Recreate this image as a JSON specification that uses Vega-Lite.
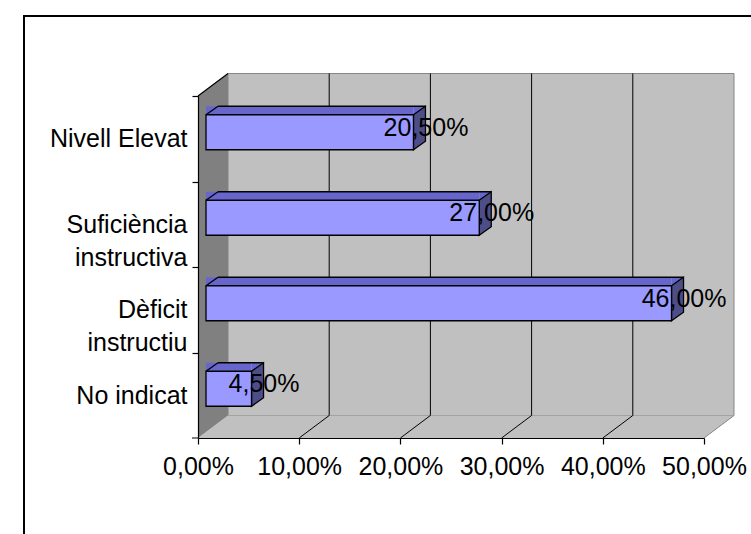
{
  "$schema": "https://vega.github.io/schema/vega-lite/v6.json",
  "width": 506,
  "height": 342,
  "autosize": {"type": "none"},
  "padding": {"left": 198, "top": 96, "right": 47, "bottom": 96},
  "background": "white",
  "config": {
    "view": {"stroke": null},
    "font": "Liberation Sans"
  },
  "data": {"values": [
    {"category": "Nivell Elevat", "value": 0.205},
    {"category": "Suficiència instructiva", "value": 0.27},
    {"category": "Dèficit instructiu", "value": 0.46},
    {"category": "No indicat", "value": 0.045}
  ]},
  "layer": [
    {"transform": [{"filter": "datum.category === 'No indicat'"}],
     "mark": {"type": "point", "shape": "M553,-422L-174,-422L-174,96", "size": 4, "filled": false, "stroke": "black", "strokeWidth": 2, "opacity": 1, "yOffset": 42.75},
     "encoding": {"x": {"datum": 0, "type": "quantitative"}, "y": {"field": "category", "type": "nominal"}}},
    {"transform": [{"filter": "datum.category === 'No indicat'"}],
     "mark": {"type": "point", "shape": "M30,-22.5L536,-22.5L536,-364.5L30,-364.5Z", "size": 4, "filled": true, "fill": "#C0C0C0", "stroke": "#868686", "strokeWidth": 1, "opacity": 1, "yOffset": 42.75},
     "encoding": {"x": {"datum": 0, "type": "quantitative"}, "y": {"field": "category", "type": "nominal"}}},
    {"transform": [{"filter": "datum.category === 'No indicat'"}],
     "mark": {"type": "point", "shape": "M0,0L30,-22.5L536,-22.5L506,0Z", "size": 4, "filled": true, "fill": "#C0C0C0", "strokeWidth": 0, "opacity": 1, "yOffset": 42.75},
     "encoding": {"x": {"datum": 0, "type": "quantitative"}, "y": {"field": "category", "type": "nominal"}}},
    {"transform": [{"filter": "datum.category === 'No indicat'"}],
     "mark": {"type": "point", "shape": "M506,0L536,-22.5", "size": 4, "filled": false, "stroke": "#868686", "strokeWidth": 1, "opacity": 1, "yOffset": 42.75},
     "encoding": {"x": {"datum": 0, "type": "quantitative"}, "y": {"field": "category", "type": "nominal"}}},
    {"transform": [{"filter": "datum.category === 'No indicat'"}],
     "mark": {"type": "point", "shape": "M0,0L30,-22.5L30,-364.5", "size": 4, "filled": false, "stroke": "black", "strokeWidth": 1, "opacity": 1, "yOffset": 42.75},
     "encoding": {"x": {"datum": 0.1, "type": "quantitative"}, "y": {"field": "category", "type": "nominal"}}},
    {"transform": [{"filter": "datum.category === 'No indicat'"}],
     "mark": {"type": "point", "shape": "M0,0L30,-22.5L30,-364.5", "size": 4, "filled": false, "stroke": "black", "strokeWidth": 1, "opacity": 1, "yOffset": 42.75},
     "encoding": {"x": {"datum": 0.2, "type": "quantitative"}, "y": {"field": "category", "type": "nominal"}}},
    {"transform": [{"filter": "datum.category === 'No indicat'"}],
     "mark": {"type": "point", "shape": "M0,0L30,-22.5L30,-364.5", "size": 4, "filled": false, "stroke": "black", "strokeWidth": 1, "opacity": 1, "yOffset": 42.75},
     "encoding": {"x": {"datum": 0.3, "type": "quantitative"}, "y": {"field": "category", "type": "nominal"}}},
    {"transform": [{"filter": "datum.category === 'No indicat'"}],
     "mark": {"type": "point", "shape": "M0,0L30,-22.5L30,-364.5", "size": 4, "filled": false, "stroke": "black", "strokeWidth": 1, "opacity": 1, "yOffset": 42.75},
     "encoding": {"x": {"datum": 0.4, "type": "quantitative"}, "y": {"field": "category", "type": "nominal"}}},
    {"transform": [{"filter": "datum.category === 'No indicat'"}],
     "mark": {"type": "point", "shape": "M0,0L0,-342L30,-364.5L30,-22.5Z", "size": 4, "filled": true, "fill": "#808080", "strokeWidth": 0, "opacity": 1, "yOffset": 42.75},
     "encoding": {"x": {"datum": 0, "type": "quantitative"}, "y": {"field": "category", "type": "nominal"}}},
    {"transform": [{"filter": "datum.category === 'No indicat'"}],
     "mark": {"type": "point", "shape": "M0,-342L30,-364.5M-6,0L0,0", "size": 4, "filled": false, "stroke": "black", "strokeWidth": 1.2, "opacity": 1, "yOffset": 42.75},
     "encoding": {"x": {"datum": 0, "type": "quantitative"}, "y": {"field": "category", "type": "nominal"}}},
    {"mark": {"type": "bar", "fill": "#6666CC", "height": 8.5, "xOffset": 8, "x2Offset": 20, "yOffset": -28.25},
     "encoding": {"x": {"field": "value", "type": "quantitative"}, "y": {"field": "category", "type": "nominal"}}},
    {"mark": {"type": "point", "shape": "M8,-24L20,-32.5L20,-24Z", "size": 4, "filled": true, "fill": "#6666CC", "strokeWidth": 0, "opacity": 1},
     "encoding": {"x": {"datum": 0, "type": "quantitative"}, "y": {"field": "category", "type": "nominal"}}},
    {"mark": {"type": "point", "shape": "M8,-24L8,-32.5L20,-32.5Z", "size": 4, "filled": true, "fill": "#6666CC", "strokeWidth": 0, "opacity": 1},
     "encoding": {"x": {"field": "value", "type": "quantitative"}, "y": {"field": "category", "type": "nominal"}}},
    {"mark": {"type": "point", "shape": "M8,-24L20,-32.5L20,2.5L8,11Z", "size": 4, "filled": true, "fill": "#4D4D88", "stroke": "black", "strokeWidth": 1.3, "opacity": 1},
     "encoding": {"x": {"field": "value", "type": "quantitative"}, "y": {"field": "category", "type": "nominal"}}},
    {"mark": {"type": "bar", "fill": "#9999FF", "stroke": "black", "strokeWidth": 1.3, "height": 35, "xOffset": 8, "x2Offset": 8, "yOffset": -6.5},
     "encoding": {
       "x": {"field": "value", "type": "quantitative",
         "scale": {"domain": [0, 0.5], "nice": false, "zero": true},
         "axis": {
           "title": null, "grid": false, "values": [0, 0.1, 0.2, 0.3, 0.4, 0.5],
           "labelExpr": "replace(format(datum.value, '.2%'), '.', ',')",
           "domainColor": "black", "domainWidth": 1.2, "tickColor": "black", "tickWidth": 1.2, "tickSize": 6,
           "labelFont": "Liberation Sans", "labelFontSize": 25, "labelColor": "black", "labelPadding": 10,
           "labelOverlap": false, "labelFlush": false, "zindex": 1
         }},
       "y": {
         "field": "category", "type": "nominal",
         "scale": {"domain": ["Nivell Elevat", "Suficiència instructiva", "Dèficit instructiu", "No indicat"], "paddingInner": 0, "paddingOuter": 0},
         "axis": {
           "title": null, "grid": false, "tickOffset": -42.75, "labelOffset": 42.75,
           "domainColor": "black", "domainWidth": 1.2, "tickColor": "black", "tickWidth": 1.2, "tickSize": 6,
           "labelFont": "Liberation Sans", "labelFontSize": 25, "labelColor": "black", "labelPadding": 5,
           "labelLimit": 0, "labelLineHeight": 33,
           "labelExpr": "indexof(datum.value, ' instructi') > 0 ? split(datum.value, ' ') : datum.value",
           "zindex": 1
         }
       }}},
    {"mark": {"type": "bar", "fill": "black", "height": 1.3, "xOffset": 20, "x2Offset": 20, "yOffset": -32.5},
     "encoding": {"x": {"field": "value", "type": "quantitative"}, "y": {"field": "category", "type": "nominal"}}},
    {"mark": {"type": "point", "shape": "M8,-24L20,-32.5", "size": 4, "filled": false, "stroke": "black", "strokeWidth": 1.3, "opacity": 1},
     "encoding": {"x": {"datum": 0, "type": "quantitative"}, "y": {"field": "category", "type": "nominal"}}},
    {"transform": [{"calculate": "replace(format(datum.value, '.2%'), '.', ',')", "as": "label"}],
     "mark": {"type": "text", "font": "Liberation Sans", "fontSize": 25, "color": "black", "align": "center", "baseline": "middle", "xOffset": 20.5, "yOffset": -11},
     "encoding": {"x": {"field": "value", "type": "quantitative"}, "y": {"field": "category", "type": "nominal"}, "text": {"field": "label", "type": "nominal"}}}
  ]
}
